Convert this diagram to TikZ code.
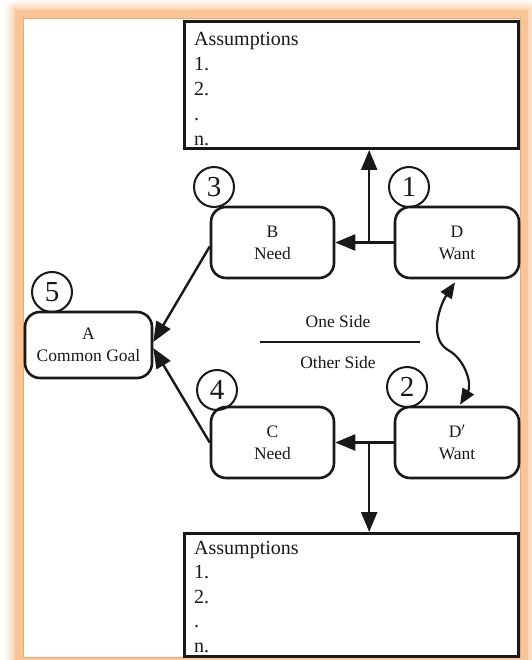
\documentclass[tikz,border=0pt]{standalone}
\usepackage{fontspec}
\setmainfont{Liberation Serif}
\usetikzlibrary{arrows.meta,calc}
\definecolor{framepeach}{RGB}{250,196,150}
\definecolor{frameedge}{RGB}{238,168,112}
\definecolor{inkgray}{RGB}{25,25,25}

\begin{document}
\begin{tikzpicture}[x=1pt,y=-1pt,
  stepbox/.style={draw=inkgray, line width=2.6pt, rounded corners=15pt, align=center,
    inner sep=0pt, text=inkgray, font=\fontsize{17.5}{22}\selectfont},
  numcirc/.style={draw=inkgray, circle, line width=2pt, minimum size=40pt, inner sep=0pt,
    text=inkgray, font=\fontsize{29}{29}\selectfont},
  assumbox/.style={draw=inkgray, line width=3pt, inner sep=0pt, anchor=north west},
  assumtext/.style={anchor=north west, align=left, inner sep=0pt, text=inkgray,
    font=\fontsize{20}{25}\selectfont},
  sidetext/.style={inner sep=0pt, text=inkgray, font=\fontsize{17.5}{20}\selectfont},
  link/.style={draw=inkgray, line width=2.4pt, -{Triangle[length=20pt,width=16pt]}},
  wavy/.style={draw=inkgray, line width=2.2pt,
    {Triangle[length=16pt,width=13pt]}-{Triangle[length=16pt,width=13pt]}}]

\useasboundingbox (0,0) rectangle (531,660);

% soft orange frame
\foreach \d/\op in {10/0.10,8/0.14,6/0.18,4/0.25,2/0.35}
  \fill[framepeach, opacity=\op, rounded corners=\d pt] (15-\d,10-\d) rectangle (528+\d,665+\d);
\fill[framepeach] (15,10) rectangle (528,665);
\fill[white] (23,18) rectangle (520,657);
\draw[frameedge, line width=0.8pt] (23,18) rectangle (520,657);

% assumption boxes
\node[assumbox, minimum width=334pt, minimum height=127pt] (topbox) at (183,20) {};
\node[assumtext] (toptext) at ($(topbox.north west)+(11,12)$) {Assumptions\\1.\\2.\\.\\n.};
\node[assumbox, minimum width=334pt, minimum height=123pt] (botbox) at (183,532) {};
\node[assumtext, font=\fontsize{20}{24.4}\selectfont] (bottext) at ($(botbox.north west)+(11,9)$) {Assumptions\\1.\\2.\\.\\n.};

% cloud boxes
\node[stepbox, minimum width=127pt, minimum height=66pt] (A) at (88.5,345) {A\\Common Goal};
\node[stepbox, minimum width=123pt, minimum height=71pt] (B) at (272.5,242.5) {B\\Need};
\node[stepbox, minimum width=124pt, minimum height=71pt] (D) at (457,242.5) {D\\Want};
\node[stepbox, minimum width=123pt, minimum height=71pt] (C) at (272.5,442.5) {C\\Need};
\node[stepbox, minimum width=124pt, minimum height=71pt] (Dp) at (457,442.5) {D$'$\\Want};

% step numbers
\node[numcirc] (n1) at (409,187) {1};
\node[numcirc] (n2) at (407,387) {2};
\node[numcirc] (n3) at (214,187) {3};
\node[numcirc] (n4) at (217,390) {4};
\node[numcirc] (n5) at (52,292) {5};

% side separator
\node[sidetext] (oneside) at (338,322) {One Side};
\node[sidetext] (otherside) at (338,363) {Other Side};
\coordinate (sepL) at (260,342);
\coordinate (sepR) at (420,342);
\draw[inkgray, line width=1.6pt] (sepL) -- (sepR);

% connectors
\draw[link] (D.west) -- (B.east);
\coordinate (j1) at ($(D.west)!0.42!(B.east)$);
\draw[link] (j1) -- (j1 |- topbox.south);
\draw[link] (Dp.west) -- (C.east);
\coordinate (j2) at ($(Dp.west)!0.42!(C.east)$);
\draw[link] (j2) -- (j2 |- botbox.north);
\draw[link] ([yshift=-4pt]B.west) -- ([yshift=3pt]A.east);
\draw[link] (C.west) -- ([yshift=-3pt]A.east);
\draw[wavy] ([xshift=-2pt,yshift=-3pt]D.south) .. controls (440,305) and (428,338) .. (448,350)
  .. controls (466,360) and (472,385) .. ([xshift=3pt,yshift=1pt]Dp.north);

\end{tikzpicture}
\end{document}
